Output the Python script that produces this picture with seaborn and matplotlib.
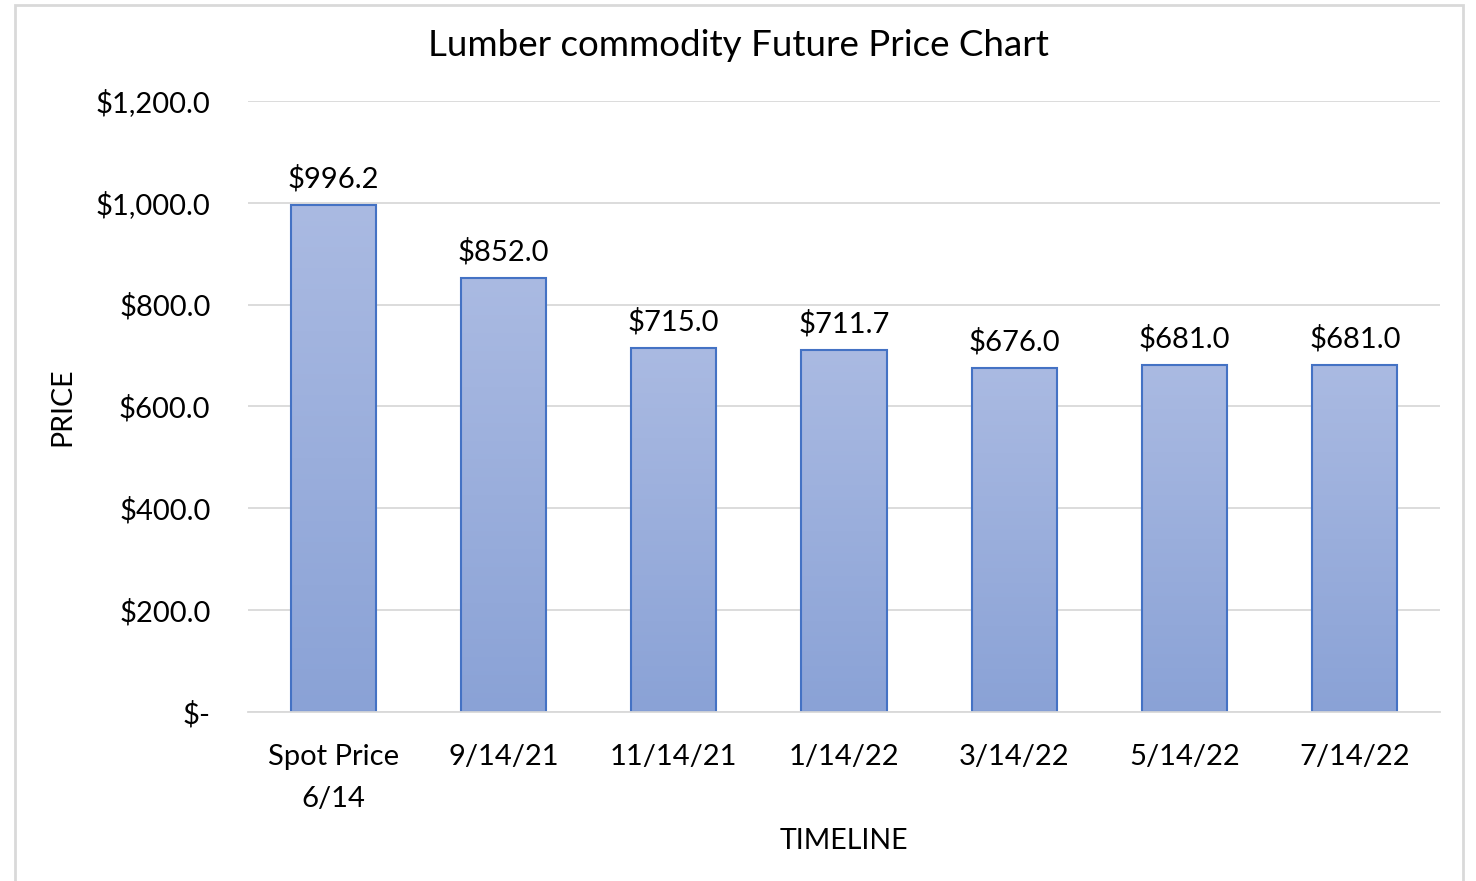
import matplotlib
matplotlib.use('Agg')
import matplotlib.pyplot as plt
import seaborn as sns
import pandas as pd
import numpy as np
from matplotlib.patches import Rectangle
from matplotlib.colors import LinearSegmentedColormap

categories = ['Spot Price\n6/14', '9/14/21', '11/14/21', '1/14/22', '3/14/22', '5/14/22', '7/14/22']
prices = [996.2, 852.0, 715.0, 711.7, 676.0, 681.0, 681.0]
yticks = [0, 200, 400, 600, 800, 1000, 1200]

df = pd.DataFrame({'timeline': categories, 'price': prices})

sns.set_theme(style='white')
plt.rcParams['font.family'] = ['Lato', 'DejaVu Sans']
plt.rcParams['text.color'] = 'black'
plt.rcParams['axes.labelcolor'] = 'black'

fig = plt.figure(figsize=(14.76, 8.81), dpi=100)
ax = fig.add_axes([0.168, 0.1918, 0.8076, 0.6936])

sns.barplot(data=df, x='timeline', y='price', ax=ax, width=0.5,
            color='#98ACDB', edgecolor='#4472C4', linewidth=1.5, saturation=1)

# gradient fill inside each bar
cmap = LinearSegmentedColormap.from_list('grad', ['#8AA2D6', '#AABAE2'])
grad = np.linspace(0, 1, 256).reshape(-1, 1)
for p in ax.patches:
    x0, y0 = p.get_x(), p.get_y()
    w, h = p.get_width(), p.get_height()
    im = ax.imshow(grad, cmap=cmap, aspect='auto', origin='lower',
                   extent=[x0, x0 + w, y0, y0 + h], zorder=p.get_zorder())
    im.set_clip_path(p)
    p.set_facecolor('none')
    p.set_zorder(p.get_zorder() + 0.1)

ax.set_xlim(-0.5, len(categories) - 0.5)
ax.set_ylim(0, 1200)
ax.set_yticks(yticks)
ax.set_yticklabels(['$-' if v == 0 else f'${v:,.1f}' for v in yticks])
ax.yaxis.grid(True, color='#D9D9D9', linewidth=1.3)
ax.set_axisbelow(True)
for s in ['top', 'right', 'left']:
    ax.spines[s].set_visible(False)
ax.spines['bottom'].set_color('#D9D9D9')
ax.spines['bottom'].set_linewidth(1.3)
ax.tick_params(axis='both', length=0, labelsize=21, colors='black')
ax.tick_params(axis='x', pad=23)
ax.tick_params(axis='y', pad=27)
for t in ax.get_xticklabels():
    t.set_linespacing(1.75)

for i, v in enumerate(prices):
    ax.annotate(f'${v:,.1f}', (i, v), xytext=(0, 9), textcoords='offset points',
                ha='center', va='bottom', fontsize=21)

ax.set_xlabel('TIMELINE', fontsize=20.5)
ax.set_ylabel('PRICE', fontsize=20.5)
ax.xaxis.set_label_coords(0.5, (712 - 841) / 611)
ax.yaxis.set_label_coords((62 - 248) / 1192, 0.5)
ax.xaxis.label.set_va('center')
ax.yaxis.label.set_va('center')
fig.text(0.5, 1 - 45 / 881, 'Lumber commodity Future Price Chart',
         ha='center', va='center', fontsize=26.5)

fig.patches.append(Rectangle((15 / 1476, -0.01), 1448 / 1476, 1 - 5 / 881 + 0.01,
                             transform=fig.transFigure, fill=False,
                             edgecolor='#D9D9D9', linewidth=2))

plt.savefig('out.png', dpi=100)
